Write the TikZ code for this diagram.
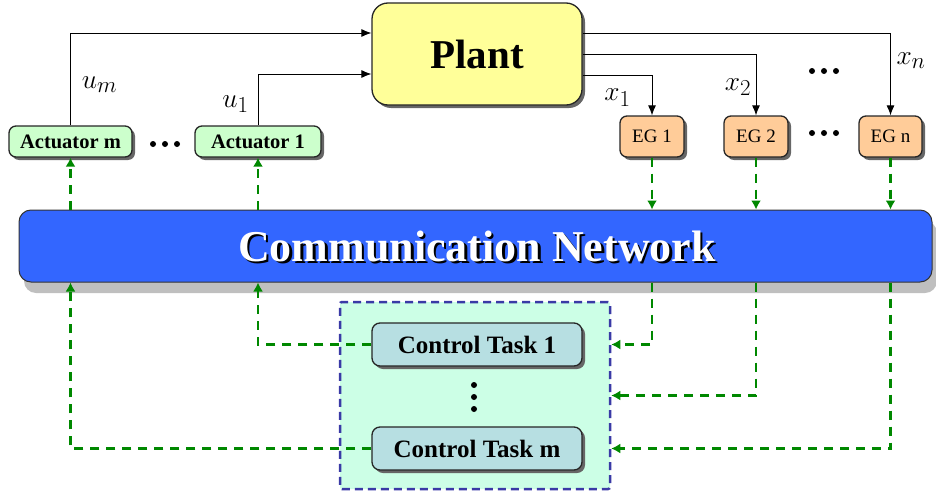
\documentclass[tikz,border=0pt]{standalone}
\usepackage{fontspec}
\setmainfont{Liberation Serif}
\usetikzlibrary{arrows.meta,shadows}

\definecolor{plantfill}{HTML}{FFFF99}
\definecolor{actfill}{HTML}{CCFFCC}
\definecolor{egfill}{HTML}{FFCC99}
\definecolor{netfill}{HTML}{3366FF}
\definecolor{taskfill}{HTML}{B7DFE2}
\definecolor{groupfill}{HTML}{CCFFE6}
\definecolor{groupline}{HTML}{3A3AA6}
\definecolor{linkgreen}{HTML}{008800}

\begin{document}
\begin{tikzpicture}[x=1pt,y=-1pt,
  every node/.style={inner sep=0pt},
  block/.style={draw=black!85, line width=1.3pt, rounded corners=7pt,
    drop shadow={shadow xshift=3pt,shadow yshift=-3pt,fill=black!60,opacity=1}},
  plantbox/.style={block, fill=plantfill, minimum width=210pt, minimum height=102pt,
    rounded corners=16pt, font=\fontsize{41}{48}\selectfont\bfseries},
  actbox/.style={block, fill=actfill, minimum height=31pt,
    font=\fontsize{20.5}{24}\selectfont\bfseries},
  egbox/.style={block, fill=egfill, minimum width=64pt, minimum height=41pt,
    font=\fontsize{19}{23}\selectfont},
  taskbox/.style={block, fill=taskfill, minimum width=210pt, minimum height=43pt,
    rounded corners=8pt, font=\fontsize{25}{30}\selectfont\bfseries},
  netbox/.style={draw=black!80, line width=1pt, fill=netfill, minimum width=913pt,
    minimum height=72pt, rounded corners=12pt,
    drop shadow={shadow xshift=5pt,shadow yshift=-11pt,fill=black!25,opacity=1}},
  nettext/.style={font=\fontsize{44}{52}\selectfont\bfseries},
  group/.style={draw=groupline, line width=2.5pt, dash pattern=on 8pt off 5pt,
    fill=groupfill, minimum width=270pt, minimum height=187pt, rounded corners=2pt},
  sig/.style={draw=black, line width=0.9pt, -{Latex[length=10pt,width=8pt]}},
  link/.style={draw=linkgreen, line width=2.4pt, dash pattern=on 9pt off 7pt,
    -{Latex[length=9pt,width=10pt]}},
  lbl/.style={font=\fontsize{24.88}{30}\selectfont, scale=1.1},
]
\useasboundingbox (0,0) rectangle (936,495);

% controller group in the background
\node[group] (grp) at (475,395.5) {};

% plant, actuators and event generators
\node[plantbox] (plant) at (477,54) {Plant};
\node[actbox, minimum width=123pt] (am) at (70.5,141.5) {Actuator m};
\node[actbox, minimum width=126pt] (a1) at (258,141.5) {Actuator 1};
\node[egbox] (eg1) at (652,136.5) {EG 1};
\node[egbox] (eg2) at (756,136.5) {EG 2};
\node[egbox, minimum width=63pt] (egn) at (890.5,136.5) {EG n};

% communication network with shadowed title
\node[netbox] (net) at (475.5,246) {};
\node[nettext, text=black] (netshade) at (479.5,249) {Communication Network};
\node[nettext, text=white] (nettitle) at (477,247) {Communication Network};

% control tasks
\node[taskbox] (ct1) at (477,344.5) {Control Task 1};
\node[taskbox] (ctm) at (477,448.5) {Control Task m};

% ellipses
\foreach \x in {153,165,177} \fill (\x,144) circle (3pt);
\foreach \x in {812,824,836} \fill (\x,133) circle (3pt);
\foreach \x in {812,824,836} \fill (\x,71) circle (3pt);
\foreach \y in {385,397,409} \fill (474,\y) circle (3pt);

% control inputs
\draw[sig] (am.north) |- node[lbl, pos=0.22, right, xshift=10pt] {$u_m$} ([yshift=21pt]plant.west);
\draw[sig] (a1.north) |- node[lbl, pos=0.21, left, xshift=-8pt] {$u_1$} ([yshift=-20pt]plant.west);

% measured states
\draw[sig] ([yshift=21pt]plant.east) -| node[lbl, pos=0.67, right, xshift=5pt] {$x_n$} (egn.north);
\draw[sig] (plant.east) -| node[lbl, pos=0.77, left, xshift=-4pt] {$x_2$} (eg2.north);
\draw[sig] ([yshift=-21pt]plant.east) -| node[lbl, pos=0.78, left, xshift=-19pt] {$x_1$} (eg1.north);

% network links
\draw[link] (net.north -| am.south) -- (am.south);
\draw[link] (net.north -| a1.south) -- (a1.south);
\draw[link] (eg1.south) -- (eg1.south |- net.north);
\draw[link] (eg2.south) -- (eg2.south |- net.north);
\draw[link] (egn.south) -- (egn.south |- net.north);

\draw[link] (net.south -| eg1.south) |- (grp.east |- ct1.east);
\draw[link] (net.south -| eg2.south) |- (grp.east);
\draw[link] (net.south -| egn.south) |- (grp.east |- ctm.east);

\draw[link] (ct1.west) -| (net.south -| a1.south);
\draw[link] (ctm.west) -| (net.south -| am.south);
\end{tikzpicture}
\end{document}
